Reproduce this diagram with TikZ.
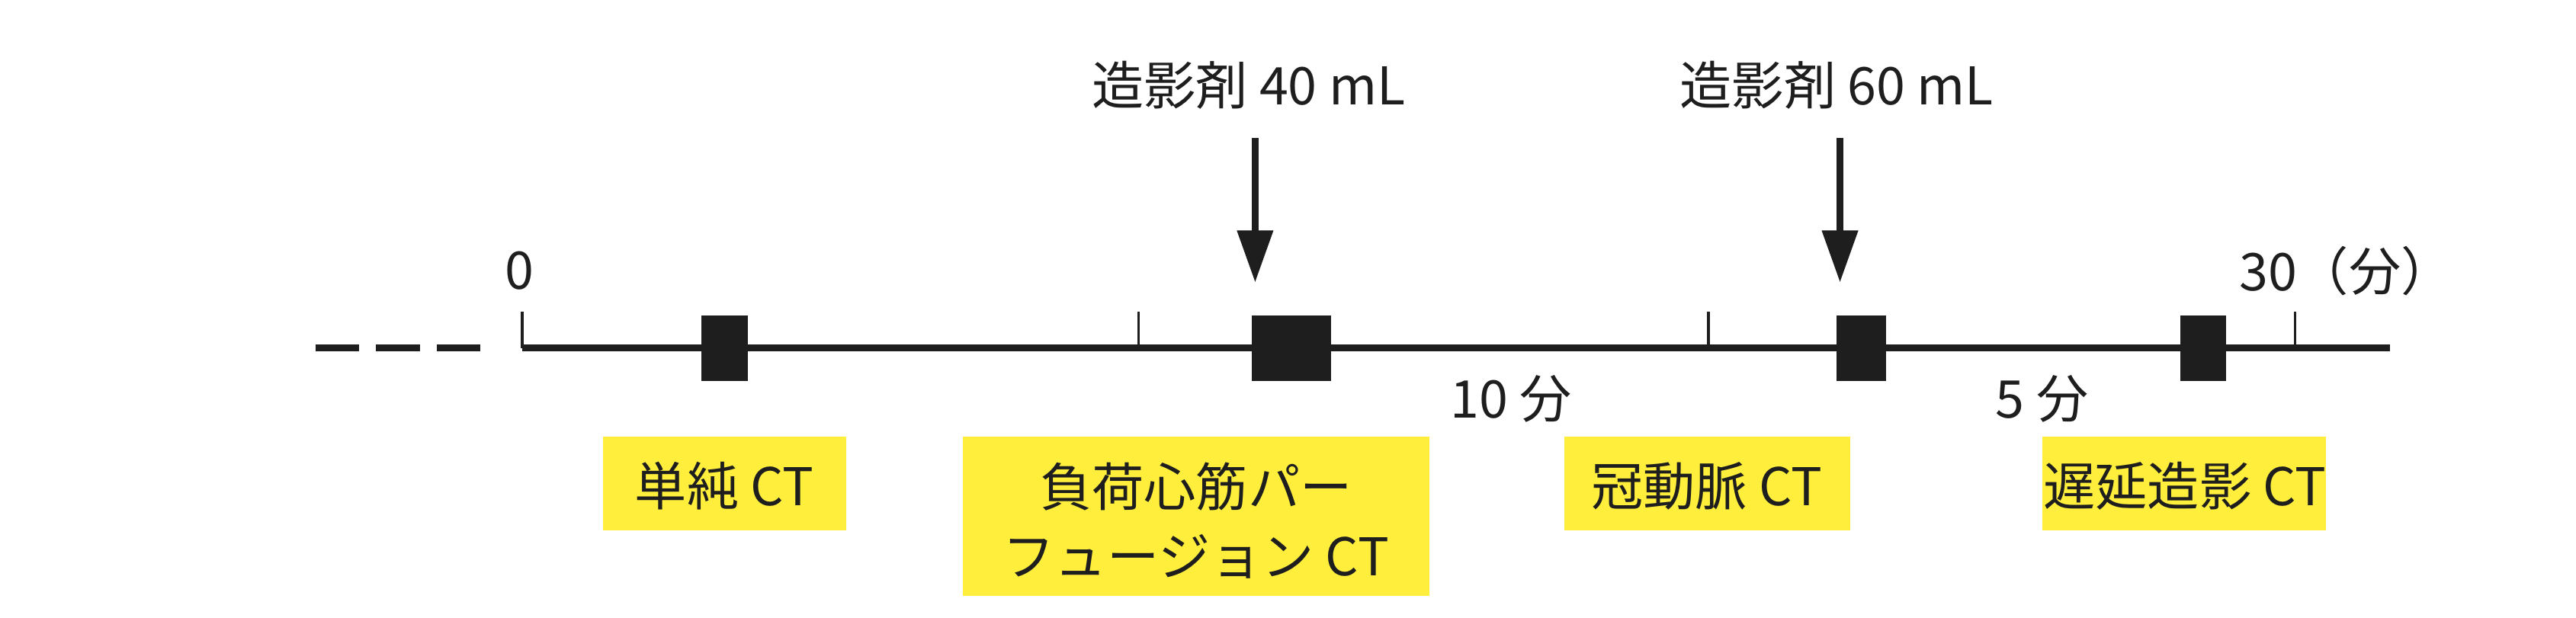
\documentclass[tikz,border=0pt]{standalone}
\usepackage{fontspec}
\setmainfont{Noto Sans CJK JP}
\usetikzlibrary{arrows.meta}
\definecolor{ybox}{HTML}{FFEE3C}
\definecolor{ink}{HTML}{1E1E1E}
\begin{document}
\begin{tikzpicture}[x=0.01cm,y=-0.01cm,
  lbl/.style={font=\fontsize{9}{12}\selectfont,text=ink,inner sep=0pt},
  blk/.style={fill=ink,draw=none},
  tck/.style={draw=ink,line width=0.5pt},
  arr/.style={draw=ink,line width=1.2pt,-{Triangle[length=9pt,width=6pt]}}]
\useasboundingbox (0,0) rectangle (1568,376);
\draw[ink,line width=1.2pt,dash pattern=on 7.6pt off 2.9pt] (192,212) -- (298,212);
\coordinate (L0) at (318,212); \coordinate (L1) at (1455,212);
\draw[ink,line width=1.2pt] (L0) -- (L1);
\foreach \x in {318,693,1040,1397} \draw[tck] (\x,190) -- (\x,212);
\node[lbl] (z) at (316,165) {0};
\node[lbl] (t) at (1428,165) {30（分）};
\fill[blk] (427,192) rectangle (455,232);
\fill[blk] (762,192) rectangle (810,232);
\fill[blk] (1118,192) rectangle (1148,232);
\fill[blk] (1327,192) rectangle (1355,232);
\node[lbl] (c1) at (760,52) {造影剤 40 mL};
\node[lbl] (c2) at (1118,52) {造影剤 60 mL};
\coordinate (s1) at (764,84); \coordinate (a1) at (764,172);
\coordinate (s2) at (1120,84); \coordinate (a2) at (1120,172);
\draw[arr] (s1) -- (a1);
\draw[arr] (s2) -- (a2);
\node[lbl] (m1) at (920,243) {10 分};
\node[lbl] (m2) at (1243,243) {5 分};
\fill[ybox] (367,266) rectangle (515,323); \node[lbl] (b1) at (441,296) {単純 CT};
\fill[ybox] (586,266) rectangle (870,363); \node[lbl,align=center] (b2) at (728,317) {負荷心筋パー\\フュージョン CT};
\fill[ybox] (952,266) rectangle (1126,323); \node[lbl] (b3) at (1039,296) {冠動脈 CT};
\fill[ybox] (1243,266) rectangle (1416,323); \node[lbl] (b4) at (1330,296) {遅延造影 CT};
\end{tikzpicture}
\end{document}
